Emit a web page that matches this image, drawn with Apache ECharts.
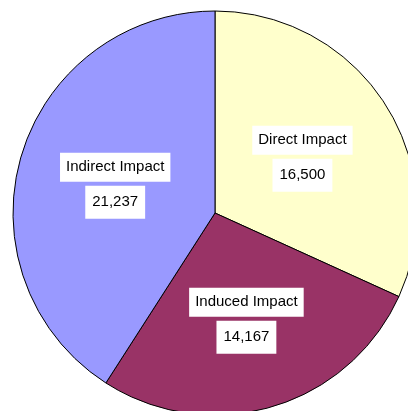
<!DOCTYPE html>
<html>
<head>
<meta charset="utf-8">
<script src="https://cdn.jsdelivr.net/npm/echarts@6/dist/echarts.min.js"></script>
<style>
  html, body { margin: 0; padding: 0; background: #fff; }
  #chart { width: 408px; height: 411px; }
</style>
</head>
<body>
<div id="chart"></div>
<script>
// slices, clockwise from 12 o'clock
const names = ['Direct Impact', 'Induced Impact', 'Indirect Impact']
const values = [16500, 14167, 21237]
const colors = ['#FFFFCC', '#993366', '#9999FF']

const chart = echarts.init(document.getElementById('chart'))

const font = {
  backgroundColor: '#fff',
  color: '#000',
  fontFamily: 'Liberation Sans, Arial, sans-serif',
  fontSize: 15
}

const option = {
  animation: false,
  series: [
    {
      type: 'pie',
      center: [215, 213],
      radius: 202,
      startAngle: 90,
      clockwise: true,
      silent: true,
      data: names.map((n, i) => ({
        name: n,
        value: values[i],
        itemStyle: { color: colors[i] },
        // induced label sits a bit further out
        label: i === 1 ? { offset: [2, 8] } : { offset: [0, 2] }
      })),
      itemStyle: {
        borderColor: '#000',
        borderWidth: 1
      },
      labelLine: { show: false },
      label: {
        show: true,
        position: 'inside',
        formatter (p) {
          return '{n|' + p.name + '}\n{g|}\n{v|' + p.value.toLocaleString('en-US') + '}'
        },
        rich: {
          n: { ...font, padding: [7, 6] },
          v: { ...font, padding: [9, 7] },
          g: { height: 4, fontSize: 4, lineHeight: 4 }
        }
      }
    }
  ]
}

chart.setOption(option)
</script>
</body>
</html>
